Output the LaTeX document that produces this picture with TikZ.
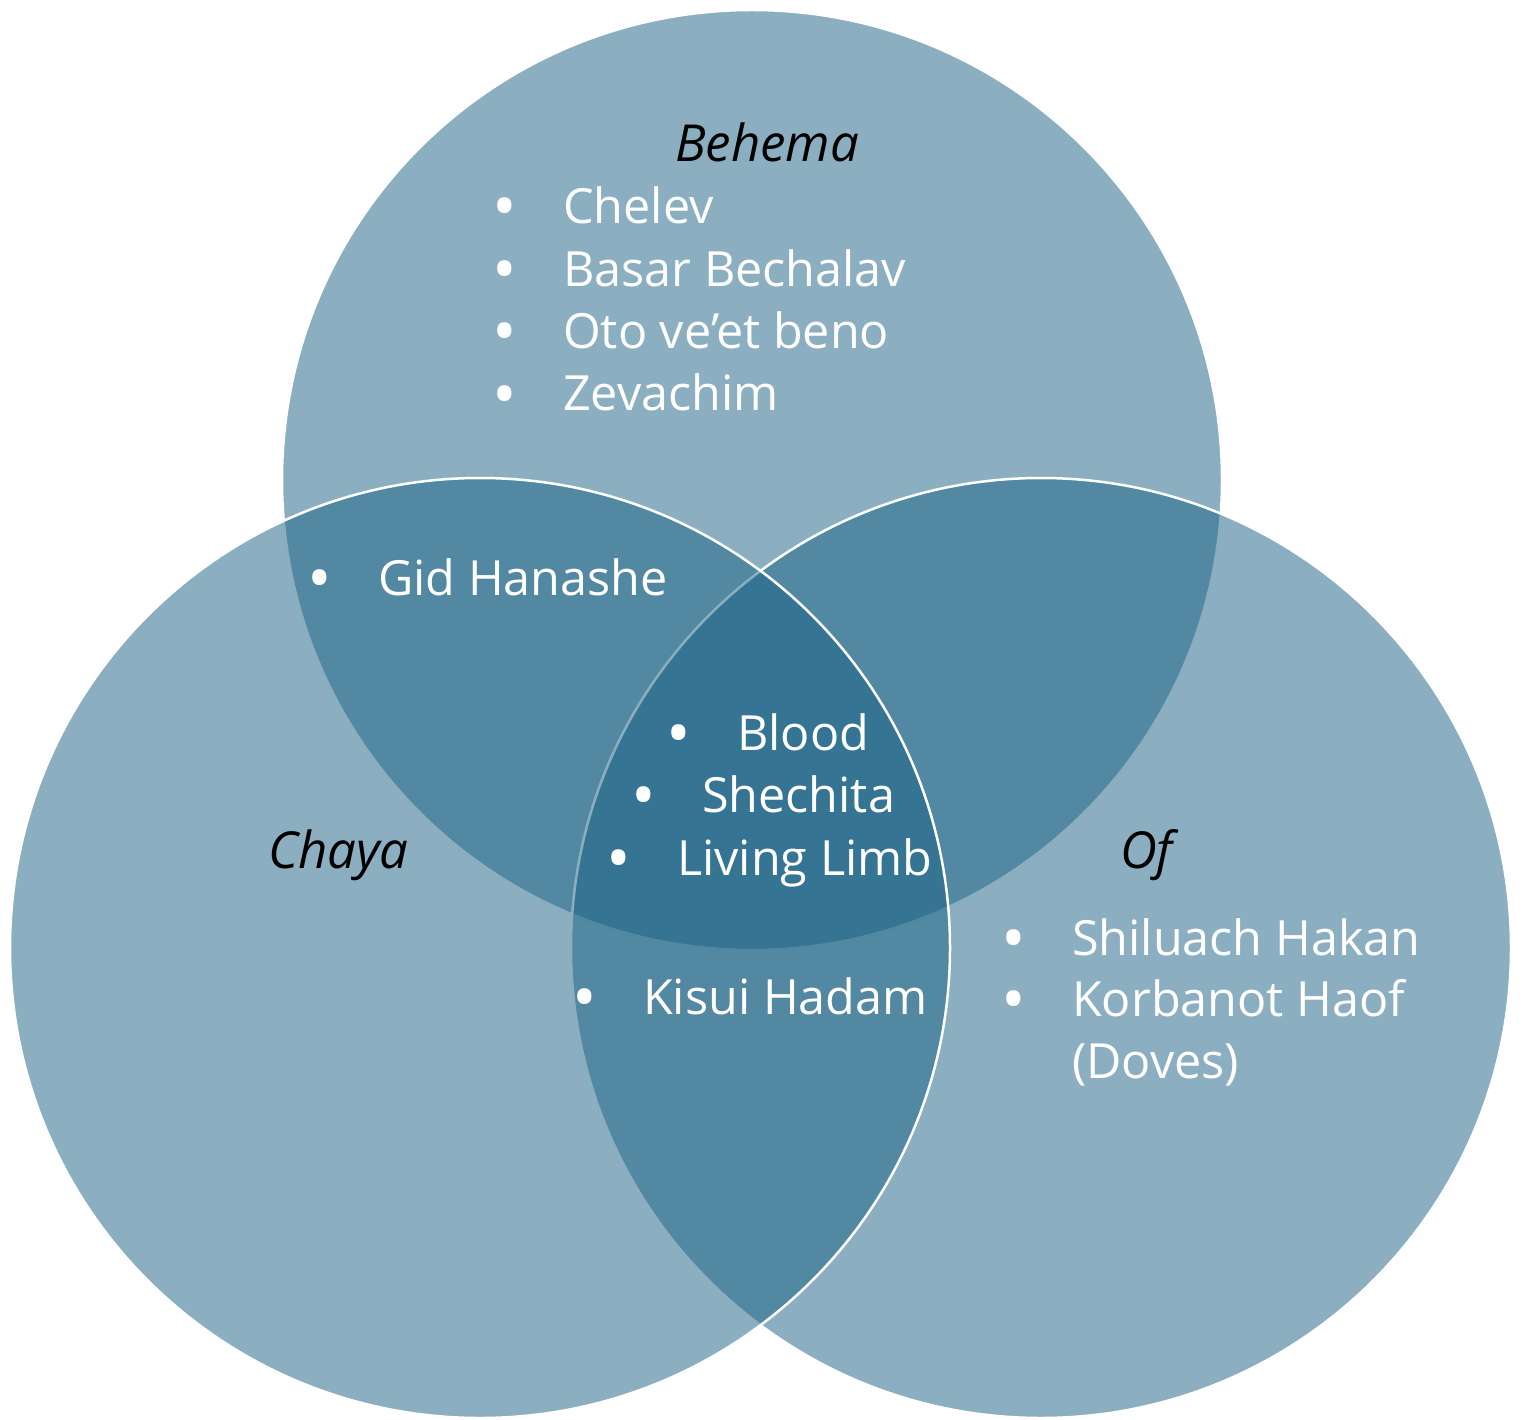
\documentclass[tikz,border=0pt]{standalone}
\usepackage{fontspec}
\setmainfont{Open Sans}
\definecolor{vennblue}{RGB}{27,98,133}
\newcommand{\bul}{\llap{\makebox[0pt][c]{\raisebox{-6pt}{\scalebox{1.35}{\textbullet}}}\hspace{58pt}}}

\begin{document}
\begin{tikzpicture}[x=1pt,y=-1pt,
        set/.style={circle,minimum size=940pt,inner sep=0pt,fill=vennblue,fill opacity=0.51,draw=white,line width=2.5pt},
        item/.style={anchor=base west,inner sep=0pt,text=white,font=\fontsize{48.5}{58}\selectfont},
        title/.style={anchor=base west,inner sep=0pt,text=black,font=\fontsize{51}{60}\selectfont\itshape}]
  \useasboundingbox (0,0) rectangle (1524,1420);
  \node[set] (behemaset) at (752,480) {};
  \node[set] (ofset) at (1041,948) {};
  \node[set] (chayaset) at (480,948) {};

  \node[title] (behema) at (675,162) {Behema};
  \node[title] (chaya) at (268,868) {Chaya};
  \node[title] (of) at (1120,868) {Of};

  \node[item] (chelev) at (563,224) {\bul Chelev};
  \node[item] (basar) at (563,287) {\bul Basar Bechalav};
  \node[item] (oto) at (563,349) {\bul Oto ve’et beno};
  \node[item] (zevachim) at (563,411) {\bul Zevachim};
  \node[item] (gid) at (378,595) {\bul Gid Hanashe};
  \node[item] (blood) at (737,750) {\bul Blood};
  \node[item] (shechita) at (702,812) {\bul Shechita};
  \node[item] (limb) at (677,875) {\bul Living Limb};
  \node[item] (kisui) at (643,1014) {\bul Kisui Hadam};
  \node[item] (shiluach) at (1072,955) {\bul Shiluach Hakan};
  \node[item] (korbanot) at (1072,1016) {\bul Korbanot Haof};
  \node[item] (doves) at (1072,1078) {(Doves)};
\end{tikzpicture}
\end{document}
